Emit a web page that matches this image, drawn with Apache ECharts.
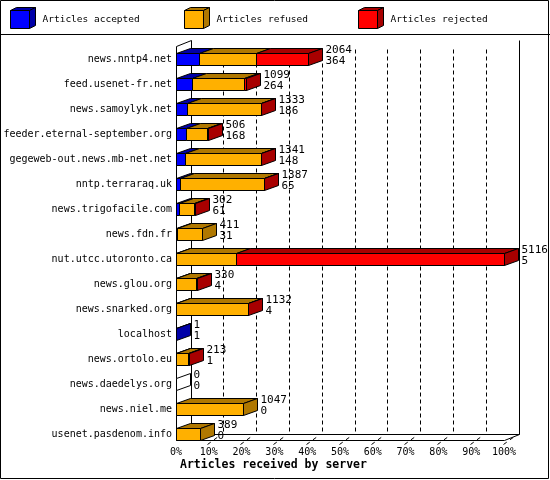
<!doctype html>
<html>
<head>
<meta charset="UTF-8">
<title>Articles received by server</title>
<script src="https://cdn.jsdelivr.net/npm/echarts@6/dist/echarts.min.js"></script>
<style>
	html, body { margin: 0; padding: 0; background: #fff; }
	#chart { width: 550px; height: 480px; }
</style>
</head>
<body>
<div id="chart"></div>
<script>
// servers, top to bottom
var hosts = ['news.nntp4.net', 'feed.usenet-fr.net', 'news.samoylyk.net', 'feeder.eternal-september.org',
	'gegeweb-out.news.mb-net.net', 'nntp.terraraq.uk', 'news.trigofacile.com', 'news.fdn.fr',
	'nut.utcc.utoronto.ca', 'news.glou.org', 'news.snarked.org', 'localhost', 'news.ortolo.eu',
	'news.daedelys.org', 'news.niel.me', 'usenet.pasdenom.info'];
var totals   = [2064, 1099, 1333, 506, 1341, 1387, 302, 411, 5116, 330, 1132, 1, 213, 0, 1047, 389];
var accepted = [364, 264, 186, 168, 148, 65, 61, 31, 5, 4, 4, 1, 1, 0, 0, 0];
var refused  = [886, 799, 1140, 318, 1183, 1317, 235, 380, 933, 320, 1120, 0, 197, 0, 1047, 389];
var rejected = [814, 36, 7, 20, 10, 5, 6, 0, 4178, 6, 8, 0, 15, 0, 0, 0];
var seriesNames = ['Articles accepted', 'Articles refused', 'Articles rejected'];
var xTicks = [0, 10, 20, 30, 40, 50, 60, 70, 80, 90, 100];

var colors = ['#0000ff', '#ffb000', '#ff0000'];
var darks = ['#0000a8', '#b07800', '#a80000'];
var MONO = '"DejaVu Sans Mono", "Liberation Mono", monospace';

var BX = 14, BY = 5;      // bar depth
var FX = 15, FY = 6;      // frame depth
var maxTotal = Math.max.apply(null, totals);
var segments = [accepted, refused, rejected];

function pct(v) { return v / maxTotal * 100; }
function px(v) { return Math.floor(v) + 0.5; }

// stacked pieces: [start%, end%, row, drawSide]
function segData(k) {
	var out = [];
	hosts.forEach(function(h, i) {
		var start = 0;
		for (var j = 0; j < k; j++) start += segments[j][i];
		var v = segments[k][i];
		if (v <= 0) return;
		var last = true;
		for (var j2 = k + 1; j2 < segments.length; j2++) if (segments[j2][i] > 0) last = false;
		out.push([pct(start), pct(start + v), i, last ? 1 : 0]);
	});
	return out;
}

function renderSegment(k) {
	return function(params, api) {
		var p0 = api.coord([api.value(0), api.value(2)]);
		var p1 = api.coord([api.value(1), api.value(2)]);
		var x0 = px(p0[0]), x1 = px(p1[0]);
		var y0 = Math.round(p0[1]) - 5.5, y1 = Math.round(p0[1]) + 6.5;
		var st = { stroke: '#000', lineWidth: 1 };
		var kids = [
			{ type: 'rect', shape: { x: x0, y: y0, width: x1 - x0, height: y1 - y0 },
				style: Object.assign({ fill: colors[k] }, st) },
			{ type: 'polygon', shape: { points: [[x0, y0], [x1, y0], [x1 + BX, y0 - BY], [x0 + BX, y0 - BY]] },
				style: Object.assign({ fill: darks[k] }, st) }
		];
		if (api.value(3)) {
			kids.push({ type: 'polygon', shape: { points: [[x1, y0], [x1 + BX, y0 - BY], [x1 + BX, y1 - BY], [x1, y1]] },
				style: Object.assign({ fill: darks[k] }, st) });
		}
		return { type: 'group', children: kids };
	};
}

// back wall, floor and grid
function renderFrame(params, api) {
	var last = hosts.length - 1;
	var x0 = px(api.coord([0, last])[0]);
	var x100 = px(api.coord([100, last])[0]);
	var floorY = Math.round(api.coord([0, last])[1]) + 6.5;
	var backFloor = floorY - FY;
	var backTop = 40.5, frontTop = backTop + FY;
	var st = { stroke: '#000', lineWidth: 1 };
	function ln(a, b, c, d, dash) {
		return { type: 'line', shape: { x1: a, y1: b, x2: c, y2: d },
			style: Object.assign({ lineDash: dash || null }, st) };
	}
	var kids = [
		ln(x0, frontTop, x0, floorY),
		ln(x0 + FX, backTop, x0 + FX, backFloor),
		ln(x100 + FX, backTop, x100 + FX, backFloor),
		ln(x0, frontTop, x0 + FX, backTop),
		ln(x0 + FX, backFloor, x100 + FX, backFloor),
		ln(x0, floorY, x100, floorY),
		ln(x0, floorY, x0 + FX, backFloor),
		ln(x100, floorY, x100 + FX, backFloor)
	];
	xTicks.forEach(function(t) {
		if (t === 0) return;
		var x = px(api.coord([t, last])[0]);
		if (t < 100) kids.push(ln(x + FX, backTop + 9, x + FX, backFloor, [4, 3]));
		kids.push(ln(x - 1, floorY + 4, x + 10, floorY - 4, [4, 4]));
	});
	return { type: 'group', children: kids };
}

function renderLabels(params, api) {
	var p = api.coord([api.value(0), api.value(1)]);
	var x = px(p[0]), c = Math.round(p[1]);
	var i = api.value(1);
	var font = '11px ' + MONO;
	var kids = [
		{ type: 'text', style: { x: x + BX + 3, y: c - 8.5, text: String(totals[i]), font: font, fill: '#000',
			align: 'left', verticalAlign: 'middle', textAlign: 'left', textVerticalAlign: 'middle' } },
		{ type: 'text', style: { x: x + BX + 3, y: c + 2.5, text: String(accepted[i]), font: font, fill: '#000',
			align: 'left', verticalAlign: 'middle', textAlign: 'left', textVerticalAlign: 'middle' } }
	];
	if (totals[i] === 0) {
		var y0 = c - 5.5, y1 = c + 6.5;
		kids.unshift({ type: 'polygon', shape: { points: [[x, y0], [x + BX, y0 - BY], [x + BX, y1 - BY], [x, y1]] },
			style: { fill: '#fff', stroke: '#000', lineWidth: 1 } });
	}
	return { type: 'group', children: kids };
}

// legend boxes drawn as small 3d cubes
var legendX = [10.5, 184.5, 358.5];
var graphics = [
	{ type: 'rect', shape: { x: 0.5, y: 0.5, width: 548, height: 478 }, style: { fill: 'none', stroke: '#000' }, z: 0 },
	{ type: 'line', shape: { x1: 0, y1: 34.5, x2: 550, y2: 34.5 }, style: { stroke: '#000', lineWidth: 1 } }
];
legendX.forEach(function(lx, k) {
	var ly = 10.5, w = 19, h = 18, d = 6, e = 3;
	graphics.push({ type: 'polygon', shape: { points: [[lx, ly], [lx + w, ly], [lx + w + d, ly - e], [lx + d, ly - e]] },
		style: { fill: darks[k], stroke: '#000' } });
	graphics.push({ type: 'polygon', shape: { points: [[lx + w, ly], [lx + w + d, ly - e], [lx + w + d, ly + h - e], [lx + w, ly + h]] },
		style: { fill: darks[k], stroke: '#000' } });
	graphics.push({ type: 'rect', shape: { x: lx, y: ly, width: w, height: h }, style: { fill: colors[k], stroke: '#000' } });
	graphics.push({ type: 'text', style: { x: lx + 32, y: 20, text: seriesNames[k], font: '9.5px ' + MONO, fill: '#000',
		textVerticalAlign: 'middle', verticalAlign: 'middle' } });
});

var chart = echarts.init(document.getElementById('chart'), null, { renderer: 'canvas' });
chart.setOption({
	animation: false,
	backgroundColor: '#fff',
	title: {
		text: 'Articles received by server',
		left: 180, top: 459, padding: 0,
		textStyle: { fontFamily: MONO, fontWeight: 'bold', fontSize: 11.5, color: '#000' }
	},
	grid: { left: 176, right: 46, top: 59, bottom: 46 },
	xAxis: {
		type: 'value', min: 0, max: 100, interval: 10,
		axisLine: { show: false }, axisTick: { show: false }, splitLine: { show: false },
		axisLabel: { formatter: '{value}%', margin: 13, fontFamily: MONO, fontSize: 10, color: '#000' }
	},
	yAxis: {
		type: 'category', data: hosts, inverse: true, boundaryGap: false,
		axisLine: { show: false }, axisTick: { show: false },
		axisLabel: { margin: 4, fontFamily: MONO, fontSize: 10, color: '#000' }
	},
	graphic: graphics,
	series: [
		{ type: 'custom', name: 'frame', z: 1, silent: true, renderItem: renderFrame, data: [[0, 0]] },
		{ type: 'custom', name: seriesNames[0], z: 2, renderItem: renderSegment(0), data: segData(0), encode: { x: [0, 1], y: 2 } },
		{ type: 'custom', name: seriesNames[1], z: 2, renderItem: renderSegment(1), data: segData(1), encode: { x: [0, 1], y: 2 } },
		{ type: 'custom', name: seriesNames[2], z: 2, renderItem: renderSegment(2), data: segData(2), encode: { x: [0, 1], y: 2 } },
		{ type: 'custom', name: 'labels', z: 3, silent: true, renderItem: renderLabels,
			data: hosts.map(function(h, i) { return [pct(totals[i]), i]; }), encode: { x: 0, y: 1 } }
	]
});
</script>
</body>
</html>
